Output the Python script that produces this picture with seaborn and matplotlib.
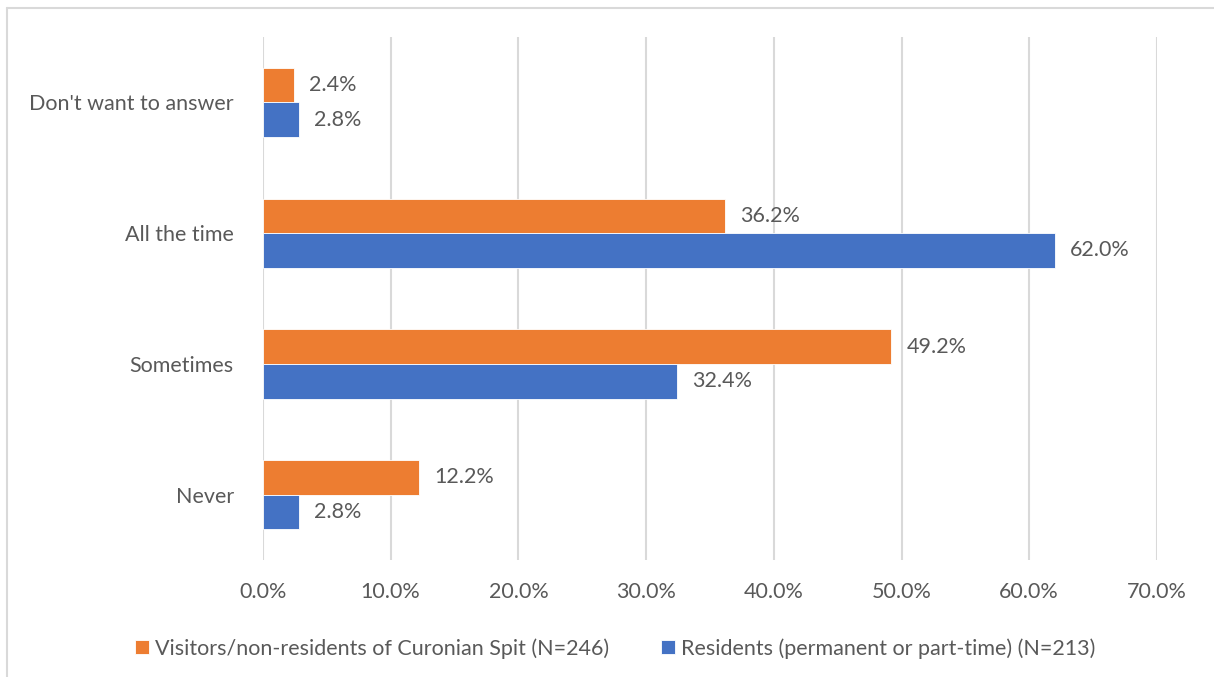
import pandas as pd
import seaborn as sns
import matplotlib.pyplot as plt
from matplotlib.lines import Line2D
from matplotlib.ticker import PercentFormatter

categories = ["Don't want to answer", "All the time", "Sometimes", "Never"]
visitors = [2.4, 36.2, 49.2, 12.2]
residents = [2.8, 62.0, 32.4, 2.8]
series_names = ["Visitors/non-residents of Curonian Spit (N=246)",
                "Residents (permanent or part-time) (N=213)"]
colors = ["#ED7D31", "#4472C4"]

df = pd.DataFrame({
    "category": categories * 2,
    "value": visitors + residents,
    "series": [series_names[0]] * len(categories) + [series_names[1]] * len(categories),
})

sns.set_theme(style="white")
plt.rcParams['font.family'] = ['Lato', 'DejaVu Sans']
text_color = "#595959"
fs = 15.5

fig = plt.figure(figsize=(12.14, 6.77), dpi=100)
ax = fig.add_axes([0.2166, 0.1728, 0.953 - 0.2166, 0.9453 - 0.1728])

sns.barplot(data=df, y="category", x="value", hue="series", order=categories,
            hue_order=series_names, palette=colors, saturation=1, width=0.53,
            orient="h", edgecolor="white", linewidth=0.6, ax=ax)

for container in ax.containers:
    ax.bar_label(container, labels=[f"{v:.1f}%" for v in container.datavalues],
                 padding=11, fontsize=fs, color=text_color)

ax.set_xlim(0, 70)
ax.set_xticks(range(0, 71, 10))
ax.xaxis.set_major_formatter(PercentFormatter(decimals=1))
ax.grid(axis="x", color="#d9d9d9", linewidth=1.5)
ax.grid(axis="y", visible=False)
ax.set_axisbelow(True)
for s in ax.spines.values():
    s.set_visible(False)
ax.set_xlabel("")
ax.set_ylabel("")
ax.tick_params(axis="both", length=0, labelsize=fs, labelcolor=text_color)
ax.tick_params(axis="x", pad=16)
ax.tick_params(axis="y", pad=21)

ax.legend(loc="upper center", bbox_to_anchor=(0.394, -0.112), ncol=2, frameon=False,
          fontsize=fs, labelcolor=text_color, handlelength=0.65, handleheight=0.65,
          handletextpad=0.3, columnspacing=2.4)

# chart border (top and left visible)
fig.add_artist(Line2D([7 / 1214, 1], [1 - 8 / 677, 1 - 8 / 677], color="#d9d9d9", linewidth=1.5))
fig.add_artist(Line2D([7 / 1214, 7 / 1214], [0, 1 - 8 / 677], color="#d9d9d9", linewidth=1.5))

fig.savefig("out.png", dpi=100)
